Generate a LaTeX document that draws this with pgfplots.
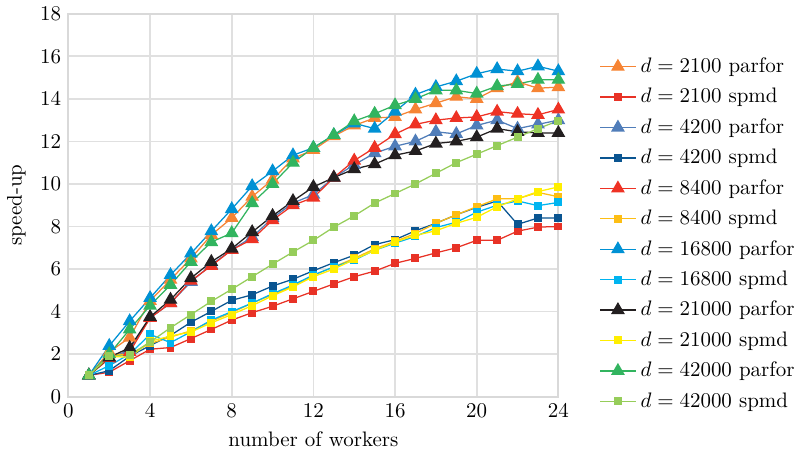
\documentclass[border=0pt]{standalone}
\usepackage{pgfplots}
\pgfplotsset{compat=1.18}
\definecolor{cA}{RGB}{246,132,52}
\definecolor{cB}{RGB}{232,50,38}
\definecolor{cC}{RGB}{80,125,185}
\definecolor{cD}{RGB}{10,85,145}
\definecolor{cE}{RGB}{238,50,36}
\definecolor{cF}{RGB}{253,190,20}
\definecolor{cG}{RGB}{0,145,212}
\definecolor{cH}{RGB}{0,180,240}
\definecolor{cI}{RGB}{35,31,32}
\definecolor{cJ}{RGB}{255,238,0}
\definecolor{cK}{RGB}{50,180,95}
\definecolor{cL}{RGB}{150,205,90}
\begin{document}
\begin{tikzpicture}
\begin{axis}[
 scale only axis, width=233.5pt, height=182.5pt,
 xmin=0, xmax=24, ymin=0, ymax=18,
 xtick={0,4,...,24}, ytick={0,2,...,18},
 grid=major, grid style={black!12, line width=0.8pt},
 axis line style={black!15, line width=1pt},
 major tick length=0pt,
 xlabel={number of workers}, ylabel={speed-up},
 legend style={draw=none, fill=none, at={(1.07,0.425)}, anchor=west, row sep=2.0pt},
 legend cell align=left,
 every axis plot/.append style={line width=0.6pt},
 tri/.style={mark=triangle*, mark size=3.2pt},
 sq/.style={mark=square*, mark size=1.6pt},
]
\addplot[color=cA, tri] coordinates {(1,1)(2,2.1)(3,2.78)(4,4.5)(5,5.5)(6,6.5)(7,7.6)(8,8.4)(9,9.4)(10,10.2)(11,11.2)(12,11.6)(13,12.25)(14,12.75)(15,13.1)(16,13.15)(17,13.5)(18,13.8)(19,14.1)(20,14.0)(21,14.5)(22,14.8)(23,14.5)(24,14.55)};
\addlegendentry{$d=2100$ parfor}
\addplot[color=cB, sq] coordinates {(1,1)(2,1.15)(3,1.69)(4,2.23)(5,2.31)(6,2.73)(7,3.16)(8,3.6)(9,3.95)(10,4.25)(11,4.6)(12,4.95)(13,5.3)(14,5.64)(15,5.9)(16,6.27)(17,6.5)(18,6.76)(19,7.0)(20,7.35)(21,7.35)(22,7.78)(23,7.97)(24,8.0)};
\addlegendentry{$d=2100$ spmd}
\addplot[color=cC, tri] coordinates {(1,1)(2,1.8)(3,2.2)(4,3.7)(5,4.4)(6,5.4)(7,6.2)(8,6.9)(9,7.5)(10,8.4)(11,9.1)(12,9.5)(13,10.3)(14,10.9)(15,11.45)(16,11.77)(17,12.0)(18,12.45)(19,12.35)(20,12.75)(21,13.0)(22,12.6)(23,12.8)(24,13.0)};
\addlegendentry{$d=4200$ parfor}
\addplot[color=cD, sq] coordinates {(1,1)(2,1.22)(3,1.9)(4,2.4)(5,2.88)(6,3.5)(7,4.01)(8,4.53)(9,4.79)(10,5.2)(11,5.52)(12,5.92)(13,6.3)(14,6.65)(15,7.15)(16,7.38)(17,7.8)(18,8.15)(19,8.55)(20,8.9)(21,9.2)(22,8.1)(23,8.4)(24,8.4)};
\addlegendentry{$d=4200$ spmd}
\addplot[color=cE, tri] coordinates {(1,1)(2,1.8)(3,2.1)(4,3.7)(5,4.4)(6,5.45)(7,6.15)(8,6.9)(9,7.4)(10,8.3)(11,9.0)(12,9.36)(13,10.3)(14,11.1)(15,11.7)(16,12.34)(17,12.8)(18,13.0)(19,13.1)(20,13.15)(21,13.4)(22,13.3)(23,13.25)(24,13.5)};
\addlegendentry{$d=8400$ parfor}
\addplot[color=cF, sq] coordinates {(1,1)(2,1.95)(3,2.0)(4,2.5)(5,2.8)(6,3.1)(7,3.55)(8,3.95)(9,4.4)(10,4.8)(11,5.2)(12,5.7)(13,6.1)(14,6.5)(15,6.95)(16,7.3)(17,7.67)(18,8.15)(19,8.55)(20,8.93)(21,9.3)(22,9.3)(23,9.6)(24,9.4)};
\addlegendentry{$d=8400$ spmd}
\addplot[color=cG, tri] coordinates {(1,1)(2,2.39)(3,3.55)(4,4.64)(5,5.72)(6,6.73)(7,7.78)(8,8.82)(9,9.9)(10,10.6)(11,11.35)(12,11.7)(13,12.3)(14,12.85)(15,12.6)(16,13.4)(17,14.2)(18,14.56)(19,14.83)(20,15.18)(21,15.4)(22,15.3)(23,15.53)(24,15.3)};
\addlegendentry{$d=16800$ parfor}
\addplot[color=cH, sq] coordinates {(1,1)(2,1.46)(3,2.0)(4,2.93)(5,2.54)(6,3.05)(7,3.6)(8,4.0)(9,4.4)(10,4.84)(11,5.25)(12,5.72)(13,6.1)(14,6.42)(15,6.88)(16,7.22)(17,7.53)(18,7.95)(19,8.2)(20,8.67)(21,9.0)(22,9.2)(23,8.98)(24,9.13)};
\addlegendentry{$d=16800$ spmd}
\addplot[color=cI, tri] coordinates {(1,1)(2,1.85)(3,2.3)(4,3.75)(5,4.56)(6,5.57)(7,6.34)(8,6.96)(9,7.74)(10,8.5)(11,9.2)(12,9.86)(13,10.3)(14,10.7)(15,10.93)(16,11.35)(17,11.55)(18,11.9)(19,12.0)(20,12.2)(21,12.6)(22,12.45)(23,12.4)(24,12.4)};
\addlegendentry{$d=21000$ parfor}
\addplot[color=cJ, sq] coordinates {(1,1)(2,1.9)(3,1.85)(4,2.6)(5,2.85)(6,3.04)(7,3.47)(8,3.86)(9,4.28)(10,4.74)(11,5.16)(12,5.64)(13,6.0)(14,6.45)(15,6.88)(16,7.27)(17,7.58)(18,7.8)(19,8.15)(20,8.43)(21,8.93)(22,9.3)(23,9.64)(24,9.86)};
\addlegendentry{$d=21000$ spmd}
\addplot[color=cK, tri] coordinates {(1,1)(2,2.0)(3,3.16)(4,4.28)(5,5.26)(6,6.34)(7,7.27)(8,7.69)(9,9.1)(10,10.0)(11,11.0)(12,11.7)(13,12.3)(14,12.95)(15,13.3)(16,13.7)(17,14.0)(18,14.4)(19,14.4)(20,14.25)(21,14.6)(22,14.7)(23,14.9)(24,14.9)};
\addlegendentry{$d=42000$ parfor}
\addplot[color=cL, sq] coordinates {(1,1)(2,1.92)(3,1.95)(4,2.57)(5,3.24)(6,3.86)(7,4.48)(8,5.05)(9,5.64)(10,6.23)(11,6.8)(12,7.35)(13,7.97)(14,8.5)(15,9.1)(16,9.55)(17,10.0)(18,10.5)(19,11.0)(20,11.4)(21,11.8)(22,12.2)(23,12.6)(24,12.97)};
\addlegendentry{$d=42000$ spmd}
\end{axis}
\end{tikzpicture}
\end{document}
